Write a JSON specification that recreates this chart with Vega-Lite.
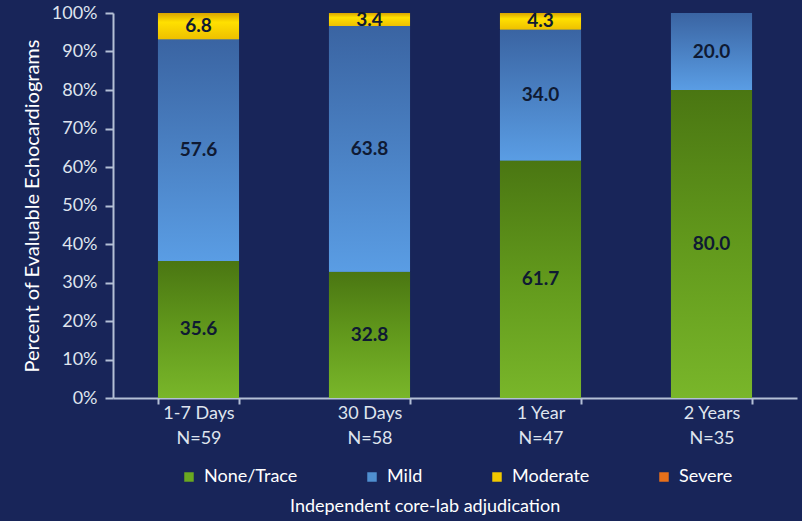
{
  "$schema": "https://vega.github.io/schema/vega-lite/v6.json",
  "autosize": "none",
  "width": 684,
  "height": 385,
  "padding": {"left": 113, "top": 13, "right": 5, "bottom": 123},
  "background": "#182559",
  "title": {
    "text": "Independent core-lab adjudication",
    "orient": "bottom",
    "anchor": "start",
    "frame": "group",
    "dx": 177,
    "offset": 12,
    "font": "Lato",
    "fontSize": 18,
    "fontWeight": "normal",
    "color": "#ffffff"
  },
  "config": {
    "view": {"stroke": null},
    "font": "Lato",
    "axis": {"labelFont": "Lato", "titleFont": "Lato"}
  },
  "data": {
    "values": [
      {"period": "1-7 Days|N=59", "grade": "None/Trace", "order": 1, "value": 35.6},
      {"period": "1-7 Days|N=59", "grade": "Mild", "order": 2, "value": 57.6},
      {"period": "1-7 Days|N=59", "grade": "Moderate", "order": 3, "value": 6.8},
      {"period": "1-7 Days|N=59", "grade": "Severe", "order": 4, "value": 0},
      {"period": "30 Days|N=58", "grade": "None/Trace", "order": 1, "value": 32.8},
      {"period": "30 Days|N=58", "grade": "Mild", "order": 2, "value": 63.8},
      {"period": "30 Days|N=58", "grade": "Moderate", "order": 3, "value": 3.4},
      {"period": "30 Days|N=58", "grade": "Severe", "order": 4, "value": 0},
      {"period": "1 Year|N=47", "grade": "None/Trace", "order": 1, "value": 61.7},
      {"period": "1 Year|N=47", "grade": "Mild", "order": 2, "value": 34.0},
      {"period": "1 Year|N=47", "grade": "Moderate", "order": 3, "value": 4.3},
      {"period": "1 Year|N=47", "grade": "Severe", "order": 4, "value": 0},
      {"period": "2 Years|N=35", "grade": "None/Trace", "order": 1, "value": 80.0},
      {"period": "2 Years|N=35", "grade": "Mild", "order": 2, "value": 20.0},
      {"period": "2 Years|N=35", "grade": "Moderate", "order": 3, "value": 0},
      {"period": "2 Years|N=35", "grade": "Severe", "order": 4, "value": 0}
    ]
  },
  "transform": [
    {"stack": "value", "groupby": ["period"], "sort": [{"field": "order", "order": "ascending"}], "as": ["v0", "v1"]},
    {"calculate": "(datum.v0 + datum.v1) / 2", "as": "mid"}
  ],
  "encoding": {
    "x": {
      "field": "period",
      "type": "nominal",
      "sort": ["1-7 Days|N=59", "30 Days|N=58", "1 Year|N=47", "2 Years|N=35"],
      "scale": {"paddingInner": 0.526, "paddingOuter": 0.263},
      "axis": {
        "title": null,
        "labelAngle": 0,
        "labelExpr": "split(datum.label, '|')",
        "labelLineHeight": 25,
        "labelFontSize": 18,
        "labelColor": "#dfe4ee",
        "labelPadding": 0,
        "tickBand": "extent",
        "tickSize": 6,
        "tickColor": "#b4c0d6",
        "tickWidth": 2,
        "domainColor": "#b4c0d6",
        "domainWidth": 2
      }
    },
    "y": {
      "field": "v0",
      "type": "quantitative",
      "scale": {"domain": [0, 100]},
      "axis": {
        "title": "Percent of Evaluable Echocardiograms",
        "titleFontSize": 20,
        "titleFontWeight": "normal",
        "titleColor": "#ffffff",
        "titlePadding": 9,
        "values": [0, 10, 20, 30, 40, 50, 60, 70, 80, 90, 100],
        "labelExpr": "datum.value + '%'",
        "labelFontSize": 18,
        "labelColor": "#dfe4ee",
        "labelPadding": 8,
        "labelOverlap": false,
        "tickSize": 8,
        "tickColor": "#b4c0d6",
        "tickWidth": 2,
        "domainColor": "#b4c0d6",
        "domainWidth": 2,
        "grid": false
      }
    }
  },
  "layer": [
    {
      "mark": {"type": "bar"},
      "encoding": {
        "y2": {"field": "v1"},
        "color": {
          "field": "grade",
          "type": "nominal",
          "scale": {
            "domain": ["None/Trace", "Mild", "Moderate", "Severe"],
            "range": ["#6aa820", "#4f8fd0", "#f0c800", "#e8701a"]
          },
          "legend": {
            "orient": "none",
            "legendX": 67,
            "legendY": 455,
            "direction": "horizontal",
            "columns": 4,
            "columnPadding": 65,
            "symbolType": "square",
            "symbolSize": 90,
            "symbolStrokeWidth": 0,
            "labelFontSize": 18,
            "labelColor": "#ffffff",
            "labelOffset": 6,
            "labelLimit": 300,
            "title": null
          }
        }
      }
    },
    {
      "transform": [{"filter": "datum.grade == 'None/Trace' && datum.value > 0"}],
      "mark": {
        "type": "bar",
        "fill": {"gradient": "linear", "x1": 0, "y1": 0, "x2": 0, "y2": 1,
          "stops": [{"offset": 0, "color": "#4a7612"}, {"offset": 0.5, "color": "#62991c"}, {"offset": 1, "color": "#79b62a"}]}
      },
      "encoding": {"y2": {"field": "v1"}}
    },
    {
      "transform": [{"filter": "datum.grade == 'Mild' && datum.value > 0"}],
      "mark": {
        "type": "bar",
        "fill": {"gradient": "linear", "x1": 0, "y1": 0, "x2": 0, "y2": 1,
          "stops": [{"offset": 0, "color": "#3a64a2"}, {"offset": 1, "color": "#5a9de4"}]}
      },
      "encoding": {"y2": {"field": "v1"}}
    },
    {
      "transform": [{"filter": "datum.grade == 'Moderate' && datum.value > 0"}],
      "mark": {
        "type": "bar",
        "fill": {"gradient": "linear", "x1": 0, "y1": 0, "x2": 0, "y2": 1,
          "stops": [{"offset": 0, "color": "#d9a400"}, {"offset": 0.35, "color": "#ffe000"}, {"offset": 1, "color": "#eec000"}]}
      },
      "encoding": {"y2": {"field": "v1"}}
    },
    {
      "transform": [{"filter": "datum.value > 0"}],
      "mark": {"type": "text", "font": "Lato", "fontWeight": "bold", "fontSize": 19, "color": "#0f1a33", "baseline": "middle"},
      "encoding": {
        "y": {"field": "mid", "type": "quantitative"},
        "text": {"field": "value", "type": "quantitative", "format": ".1f"}
      }
    }
  ]
}
